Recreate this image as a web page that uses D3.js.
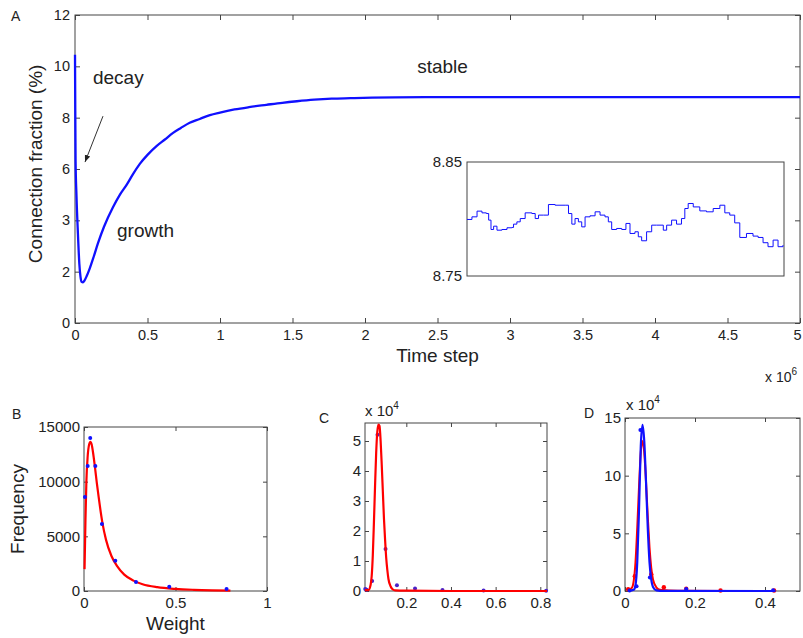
<!DOCTYPE html>
<html><head><meta charset="utf-8">
<script src="https://cdn.jsdelivr.net/npm/d3@7"></script>
<style>
body{margin:0;background:#fff}
text{font-family:"Liberation Sans",Arial,Helvetica,sans-serif;fill:#222}
</style>
</head><body>
<svg id="chart" width="803" height="638"></svg>
<script>
// ---------- Panel A: connection fraction over time (time in units of 10^6) ----------
const mainTime = [0,0.002,0.004,0.01,0.02,0.03,0.038,0.046,0.055,0.065,0.08,0.1,0.13,0.158,0.2,0.261,0.31,0.358,0.4,0.447,0.5,0.564,0.62,0.674,0.73,0.791,0.86,0.93,1.0,1.1,1.2,1.32,1.43,1.53,1.65,1.77,1.9,2.05,2.21,2.5,3,3.5,4,4.5,5];
const mainFraction = [10.45,8.2,6.3,5.0,3.5,2.3,1.8,1.6,1.58,1.65,1.82,2.1,2.6,3.1,3.75,4.5,5.0,5.4,5.8,6.2,6.55,6.9,7.15,7.4,7.6,7.8,7.95,8.1,8.2,8.32,8.41,8.5,8.58,8.64,8.7,8.74,8.76,8.78,8.79,8.8,8.8,8.8,8.8,8.8,8.8];
const mainXTicks = [0,0.5,1,1.5,2,2.5,3,3.5,4,4.5,5];
const mainXTickLabels = ["0","0.5","1","1.5","2","2.5","3","3.5","4","4.5","5"];
const mainYTicks = [0,2,4,6,8,10,12];
const mainYTickLabels = ["0","2","3","6","8","10","12"];

// inset (zoom of the stable phase)
const insetTime = [2.700,2.734,2.769,2.803,2.833,2.849,2.865,2.883,2.906,2.940,2.975,3.009,3.020,3.043,3.066,3.100,3.146,3.169,3.192,3.226,3.260,3.306,3.375,3.398,3.421,3.443,3.466,3.489,3.512,3.546,3.581,3.615,3.649,3.672,3.695,3.729,3.764,3.793,3.821,3.855,3.878,3.901,3.935,3.970,4.004,4.050,4.073,4.107,4.141,4.175,4.198,4.221,4.256,4.301,4.347,4.393,4.439,4.473,4.507,4.541,4.576,4.622,4.667,4.702,4.736,4.770,4.805,4.839,4.873];
const insetFraction = [8.7996,8.8019,8.8069,8.8054,8.8048,8.7990,8.7908,8.7937,8.7902,8.7908,8.7923,8.7926,8.7955,8.7975,8.8004,8.8054,8.8048,8.8004,8.8034,8.8034,8.8127,8.8121,8.8121,8.8048,8.7955,8.8004,8.7975,8.7931,8.8019,8.8028,8.8063,8.8034,8.8019,8.7975,8.7908,8.7917,8.7908,8.7961,8.7873,8.7888,8.7844,8.7809,8.7888,8.7946,8.7946,8.7902,8.7946,8.7990,8.7955,8.8004,8.8092,8.8136,8.8106,8.8071,8.8063,8.8092,8.8121,8.8054,8.8034,8.7966,8.7838,8.7873,8.7850,8.7838,8.7792,8.7757,8.7815,8.7757,8.7771];
const insetYTicks = [8.75,8.85];

// annotations (data units of panel A)
const annoText = ["decay","growth","stable"];
const annoTime = [0.124,0.29,2.36];
const annoValue = [9.31,3.35,9.74];
const arrowFrom = [0.193,8.06];
const arrowTo = [0.069,6.27];

// ---------- Panel B: weight histogram ----------
const bDotWeight = [0.005,0.02,0.034,0.062,0.098,0.171,0.284,0.466,0.779];
const bDotFreq = [8600,11430,13990,11430,6130,2770,820,390,180];
const bFitWeight = [0.003,0.008,0.013,0.02,0.028,0.035,0.042,0.05,0.06,0.07,0.08,0.1,0.12,0.15,0.18,0.22,0.27,0.32,0.4,0.5,0.6,0.7,0.8];
const bFitFreq = [2000,6500,10000,12300,13400,13650,13400,12600,11300,9900,8600,6300,4700,3200,2300,1500,950,620,350,190,110,65,40];
const bXTicks = [0,0.5,1];
const bYTicks = [0,5000,10000,15000];

// ---------- Panel C (frequency in units of 10^4) ----------
const cDotWeight = [0.016,0.022,0.047,0.071,0.107,0.158,0.239,0.362,0.546,0.826];
const cDotFreq = [0.07,0.04,0.33,5.21,1.4,0.19,0.08,0.03,0.02,0.01];
const cFitWeight = [0.015,0.03,0.04,0.045,0.05,0.055,0.06,0.065,0.07,0.075,0.08,0.085,0.09,0.095,0.1,0.105,0.11,0.115,0.12,0.13,0.14,0.15,0.2,0.4,0.6,0.83];
const cFitFreq = [0.03,0.03,0.2,0.5,1.2,2.3,3.5,4.6,5.3,5.55,5.5,5.0,4.2,3.3,2.4,1.7,1.1,0.7,0.4,0.15,0.05,0.02,0.01,0.0,0.0,0.0];
const cXTicks = [0.2,0.4,0.6,0.8];
const cYTicks = [0,1,2,3,4,5];

// ---------- Panel D (frequency in units of 10^4) ----------
const dRedDotWeight = [0.009,0.028,0.075,0.111,0.175,0.273,0.426];
const dRedDotFreq = [0.15,1.28,1.45,0.32,0.2,0.04,0.04];
const dRedFitWeight = [0.005,0.01,0.02,0.025,0.03,0.035,0.04,0.045,0.05,0.055,0.06,0.065,0.07,0.075,0.08,0.09,0.1,0.15,0.43];
const dRedFitFreq = [0.1,0.1,0.3,0.9,2.5,5.5,9,12,13,12,9.5,6.5,3.8,2,1,0.3,0.1,0.02,0];
const dBlueDotWeight = [0.013,0.033,0.044,0.071,0.175,0.423];
const dBlueDotFreq = [0.05,0.41,13.97,1.16,0.17,0.06];
const dBlueFitWeight = [0.01,0.025,0.03,0.035,0.04,0.045,0.05,0.055,0.06,0.065,0.07,0.075,0.08,0.09,0.1,0.43];
const dBlueFitFreq = [0,0.1,0.5,2.5,7,12.5,14.4,13,9.5,5.5,2.5,1.0,0.35,0.05,0.01,0];
const dXTicks = [0,0.2,0.4];
const dYTicks = [0,5,10,15];

const BLUE = "#1010ff", RED = "#ff0000", AXIS = "#444";
const svg = d3.select("#chart");
svg.append("rect").attr("width",803).attr("height",638).attr("fill","#fff");

function boxAxes(g, x, y, o) {
  const [x0,x1] = x.range(), [y0,y1] = y.range();
  const fs = o.fontSize + "px";
  const bot = g.append("g").attr("transform",`translate(0,${y0})`)
    .call(d3.axisBottom(x).tickValues(o.xt).tickFormat((d,i)=>o.xl ? o.xl[i] : d)
      .tickSizeInner(-o.tick).tickSizeOuter(0).tickPadding(o.xpad||7));
  const top = g.append("g").attr("transform",`translate(0,${y1})`)
    .call(d3.axisTop(x).tickValues(o.xt).tickFormat("").tickSizeInner(-o.tick).tickSizeOuter(0));
  const left = g.append("g").attr("transform",`translate(${x0},0)`)
    .call(d3.axisLeft(y).tickValues(o.yt).tickFormat((d,i)=>o.yl ? o.yl[i] : d)
      .tickSizeInner(-o.tick).tickSizeOuter(0).tickPadding(o.ypad||5));
  const right = g.append("g").attr("transform",`translate(${x1},0)`)
    .call(d3.axisRight(y).tickValues(o.yt).tickFormat("").tickSizeInner(-o.tick).tickSizeOuter(0));
  [bot,top,left,right].forEach(a=>{
    a.select(".domain").remove();
    a.selectAll(".tick line").attr("stroke",AXIS);
    a.selectAll(".tick text").attr("font-size",fs).attr("font-family",'"Liberation Sans",Arial,sans-serif').attr("fill","#222");
  });
  g.append("rect").attr("x",x0).attr("y",y1).attr("width",x1-x0).attr("height",y0-y1)
    .attr("fill","none").attr("stroke",AXIS).attr("stroke-width",1);
  return bot;
}

// ===== Panel A =====
const gA = svg.append("g");
const xA = d3.scaleLinear().domain([0,5]).range([75,800]);
const yA = d3.scaleLinear().domain([0,12]).range([323,15]);
const botA = boxAxes(gA, xA, yA, {xt:mainXTicks, xl:mainXTickLabels, yt:mainYTicks, yl:mainYTickLabels, tick:5, fontSize:14.5, xpad:7, ypad:5});
// keep the last tick label inside the page
botA.selectAll(".tick text").filter(d=>d===5).attr("dx",-3);
const mainData = mainTime.map((t,i)=>[t,mainFraction[i]]);
gA.append("path").datum(mainData)
  .attr("d", d3.line().x(d=>xA(d[0])).y(d=>yA(d[1])).curve(d3.curveMonotoneX))
  .attr("fill","none").attr("stroke",BLUE).attr("stroke-width",2.3);
gA.append("text").attr("x",xA(2.5)).attr("y",362).attr("text-anchor","middle").attr("font-size","19px").text("Time step");
gA.append("text").attr("transform",`translate(42,${yA(6.2)}) rotate(-90)`).attr("text-anchor","middle").attr("font-size","19px").text("Connection fraction (%)");
const mult = gA.append("text").attr("x",765).attr("y",382).attr("font-size","14px");
mult.append("tspan").text("x 10");
mult.append("tspan").attr("dy",-7).attr("font-size","10px").text("6");
gA.append("text").attr("x",11).attr("y",21).attr("font-size","14px").text("A");
annoText.forEach((s,i)=>{
  gA.append("text").attr("x",xA(annoTime[i])).attr("y",yA(annoValue[i])).attr("font-size","19px").text(s);
});
svg.append("defs").append("marker").attr("id","arr").attr("viewBox","0 0 10 10").attr("refX",10).attr("refY",5)
  .attr("markerWidth",7).attr("markerHeight",7).attr("orient","auto-start-reverse")
  .append("path").attr("d","M0,1 L10,5 L0,9 z").attr("fill","#222");
gA.append("line").attr("x1",xA(arrowFrom[0])).attr("y1",yA(arrowFrom[1])).attr("x2",xA(arrowTo[0])).attr("y2",yA(arrowTo[1]))
  .attr("stroke","#333").attr("stroke-width",1).attr("marker-end","url(#arr)");

// inset
const xI = d3.scaleLinear().domain([2.7,4.88]).range([467,784]);
const yI = d3.scaleLinear().domain([8.75,8.85]).range([276,162]);
gA.append("rect").attr("x",467).attr("y",162).attr("width",317).attr("height",114).attr("fill","#fff").attr("stroke",AXIS);
const insetData = insetTime.map((t,i)=>[t,insetFraction[i]]);
gA.append("path").datum(insetData)
  .attr("d", d3.line().x(d=>xI(d[0])).y(d=>yI(d[1])).curve(d3.curveStepAfter))
  .attr("fill","none").attr("stroke",BLUE).attr("stroke-width",1);
insetYTicks.forEach(v=>{
  gA.append("text").attr("x",462).attr("y",yI(v)).attr("dy","0.35em").attr("text-anchor","end").attr("font-size","15px").text(v.toFixed(2));
});

// ===== helper for bottom panels =====
function dots(g,x,y,wx,fy,color,r){
  g.selectAll(null).data(wx.map((w,i)=>[w,fy[i]])).enter().append("circle")
    .attr("cx",d=>x(d[0])).attr("cy",d=>y(d[1])).attr("r",r).attr("fill",color);
}
function fit(g,x,y,wx,fy,color,w){
  g.append("path").datum(wx.map((v,i)=>[v,fy[i]]))
    .attr("d",d3.line().x(d=>x(d[0])).y(d=>y(d[1])).curve(d3.curveMonotoneX))
    .attr("fill","none").attr("stroke",color).attr("stroke-width",w);
}
function mult4(g,x,yb){
  const t = g.append("text").attr("x",x).attr("y",yb).attr("font-size","15px");
  t.append("tspan").text("x 10");
  t.append("tspan").attr("dy",-7).attr("font-size","10px").text("4");
}

// ===== Panel B =====
const gB = svg.append("g");
const xB = d3.scaleLinear().domain([0,1]).range([84,267]);
const yB = d3.scaleLinear().domain([0,15000]).range([591,427]);
boxAxes(gB,xB,yB,{xt:bXTicks, yt:bYTicks, tick:4, fontSize:15, xpad:6, ypad:4});
fit(gB,xB,yB,bFitWeight,bFitFreq,RED,2.2);
dots(gB,xB,yB,bDotWeight,bDotFreq,BLUE,2);
gB.append("text").attr("x",xB(0.5)).attr("y",630).attr("text-anchor","middle").attr("font-size","19px").text("Weight");
gB.append("text").attr("transform",`translate(24,${yB(7500)}) rotate(-90)`).attr("text-anchor","middle").attr("font-size","19px").text("Frequency");
gB.append("text").attr("x",12).attr("y",419).attr("font-size","14px").text("B");

// ===== Panel C =====
const gC = svg.append("g");
const xC = d3.scaleLinear().domain([0.015,0.83]).range([365,547]);
const yC = d3.scaleLinear().domain([0,5.6]).range([591,423]);
boxAxes(gC,xC,yC,{xt:cXTicks, yt:cYTicks, tick:4, fontSize:15, xpad:6, ypad:4});
dots(gC,xC,yC,cDotWeight,cDotFreq,"#4a22c8",2);
fit(gC,xC,yC,cFitWeight,cFitFreq,RED,2.2);
mult4(gC,365,416);
gC.append("text").attr("x",319).attr("y",423).attr("font-size","14px").text("C");

// ===== Panel D =====
const gD = svg.append("g");
const xD = d3.scaleLinear().domain([0,0.5]).range([625,800]);
const yD = d3.scaleLinear().domain([0,15]).range([591,418]);
boxAxes(gD,xD,yD,{xt:dXTicks, yt:dYTicks, tick:4, fontSize:15, xpad:6, ypad:4});
fit(gD,xD,yD,dRedFitWeight,dRedFitFreq,RED,2);
dots(gD,xD,yD,dRedDotWeight,dRedDotFreq,RED,2.2);
fit(gD,xD,yD,dBlueFitWeight,dBlueFitFreq,BLUE,2.2);
dots(gD,xD,yD,dBlueDotWeight,dBlueDotFreq,BLUE,2);
mult4(gD,626,410);
gD.append("text").attr("x",584).attr("y",418).attr("font-size","14px").text("D");
</script>
</body></html>
